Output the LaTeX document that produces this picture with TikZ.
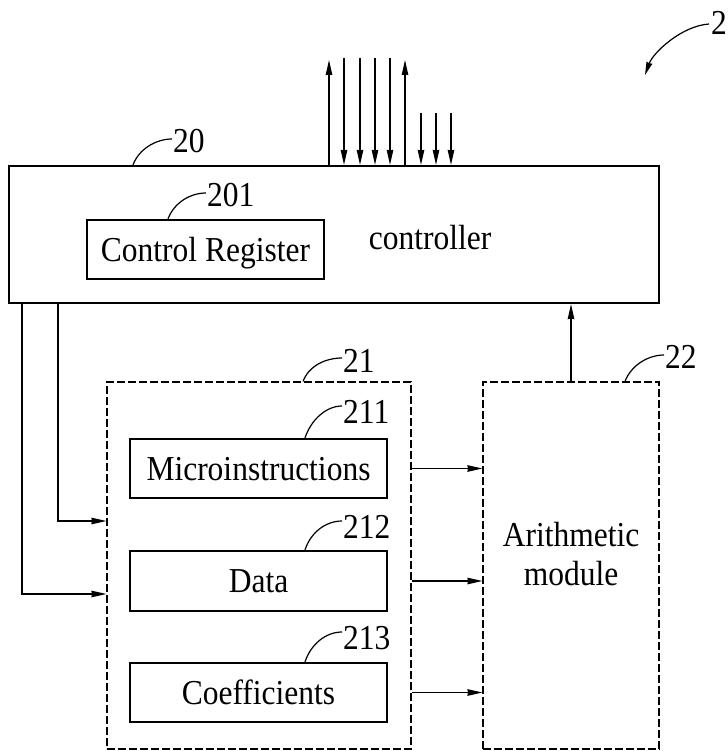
\documentclass[tikz,border=0pt]{standalone}
\usepackage{fontspec}
\setmainfont{Liberation Serif}[FakeStretch=0.9]
\usetikzlibrary{arrows.meta,calc}
\begin{document}
\begin{tikzpicture}[x=1pt,y=-1pt,
  arr/.style={line width=1.3pt,-{Stealth[length=15pt,width=6.5pt,inset=0.5pt]}},
  solidbox/.style={draw,line width=2.2pt,inner sep=0pt,text depth=0pt},
  dashbox/.style={draw,line width=1.1pt,dash pattern=on 8pt off 3pt,inner sep=0pt},
  lbl/.style={inner sep=0pt},
  lead/.style={line width=1.2pt},
  every node/.style={font=\fontsize{35}{39}\selectfont}]
\useasboundingbox (0,0) rectangle (727,751);
% boxes
\node[solidbox,minimum width=650pt,minimum height=137pt] (ctrl) at (334,234.5) {};
\node[solidbox,minimum width=237pt,minimum height=59pt] (creg) at (205.5,249.5) {Control Register};
\node[lbl,anchor=base] (ctxt) at (430,249) {controller};
\node[dashbox,minimum width=304pt,minimum height=367pt] (mem) at (259,565.5) {};
\node[dashbox,minimum width=176pt,minimum height=367pt] (alu) at (571,565.5) {};
\node[solidbox,minimum width=257pt,minimum height=59pt] (mi) at (258.5,468.5) {Microinstructions};
\node[solidbox,minimum width=257pt,minimum height=60pt] (data) at (258.5,581) {Data};
\node[solidbox,minimum width=257pt,minimum height=59pt] (coef) at (258.5,692.5) {Coefficients};
\node[lbl,align=center] (alutxt) at (571,554) {Arithmetic\\module};
% labels
\node[lbl,anchor=west] (l20) at (173,141) {20};
\node[lbl,anchor=west] (l201) at (207,195) {201};
\node[lbl,anchor=west] (l21) at (343,361) {21};
\node[lbl,anchor=west] (l22) at (665,357) {22};
\node[lbl,anchor=west] (l211) at (343,412) {211};
\node[lbl,anchor=west] (l212) at (343,527) {212};
\node[lbl,anchor=west] (l213) at (343,638) {213};
\node[lbl,anchor=west] (l2) at (711,23) {2};
% leader lines
\coordinate (s20) at (133,0);
\coordinate (s201) at (168,0);
\coordinate (s21) at (303,0);
\coordinate (s22) at (625,0);
\coordinate (s2x) at (305,0);
\draw[lead] (ctrl.north -| s20) .. controls +(6,-16) and +(-16,0) .. ($(l20.west)+(-1,-2)$);
\draw[lead] (creg.north -| s201) .. controls +(6,-16) and +(-16,0) .. ($(l201.west)+(-1,-2)$);
\draw[lead] (mem.north -| s21) .. controls +(6,-16) and +(-16,0) .. ($(l21.west)+(-1,-3)$);
\draw[lead] (alu.north -| s22) .. controls +(6,-16) and +(-16,0) .. ($(l22.west)+(-1,-2)$);
\draw[lead] (mi.north -| s2x) .. controls +(6,-18) and +(-16,0) .. ($(l211.west)+(-1,-6)$);
\draw[lead] (data.north -| s2x) .. controls +(6,-18) and +(-16,0) .. ($(l212.west)+(-1,-6)$);
\draw[lead] (coef.north -| s2x) .. controls +(6,-18) and +(-16,0) .. ($(l213.west)+(-1,-6)$);
\coordinate (tip2) at (645,75);
\draw[lead,-{Stealth[length=13pt,width=6pt,inset=0.5pt]}] ($(l2.west)+(-2,1)$) .. controls +(-28,2) and +(8,-22) .. (tip2);
% top signal arrows
\foreach \x in {344,360,375,390} {\coordinate (t) at (\x,58); \draw[arr] (t) -- (t |- ctrl.north);}
\foreach \x in {421,436,451} {\coordinate (t) at (\x,113); \draw[arr] (t) -- (t |- ctrl.north);}
\foreach \x in {329,405} {\coordinate (t) at (\x,60); \draw[arr] (t |- ctrl.north) -- (t);}
% controller to memory
\coordinate (xa) at (22,0);
\coordinate (xb) at (58,0);
\coordinate (ya) at (0,594);
\coordinate (yb) at (0,521);
\draw[arr] (ctrl.south -| xa) |- (mem.west |- ya);
\draw[arr] (ctrl.south -| xb) |- (mem.west |- yb);
% memory to arithmetic module
\foreach \n in {mi,data,coef} {\draw[arr] (mem.east |- \n.east) -- (alu.west |- \n.east);}
% arithmetic module to controller
\draw[arr] (alu.north) -- (alu.north |- ctrl.south);
\end{tikzpicture}
\end{document}
